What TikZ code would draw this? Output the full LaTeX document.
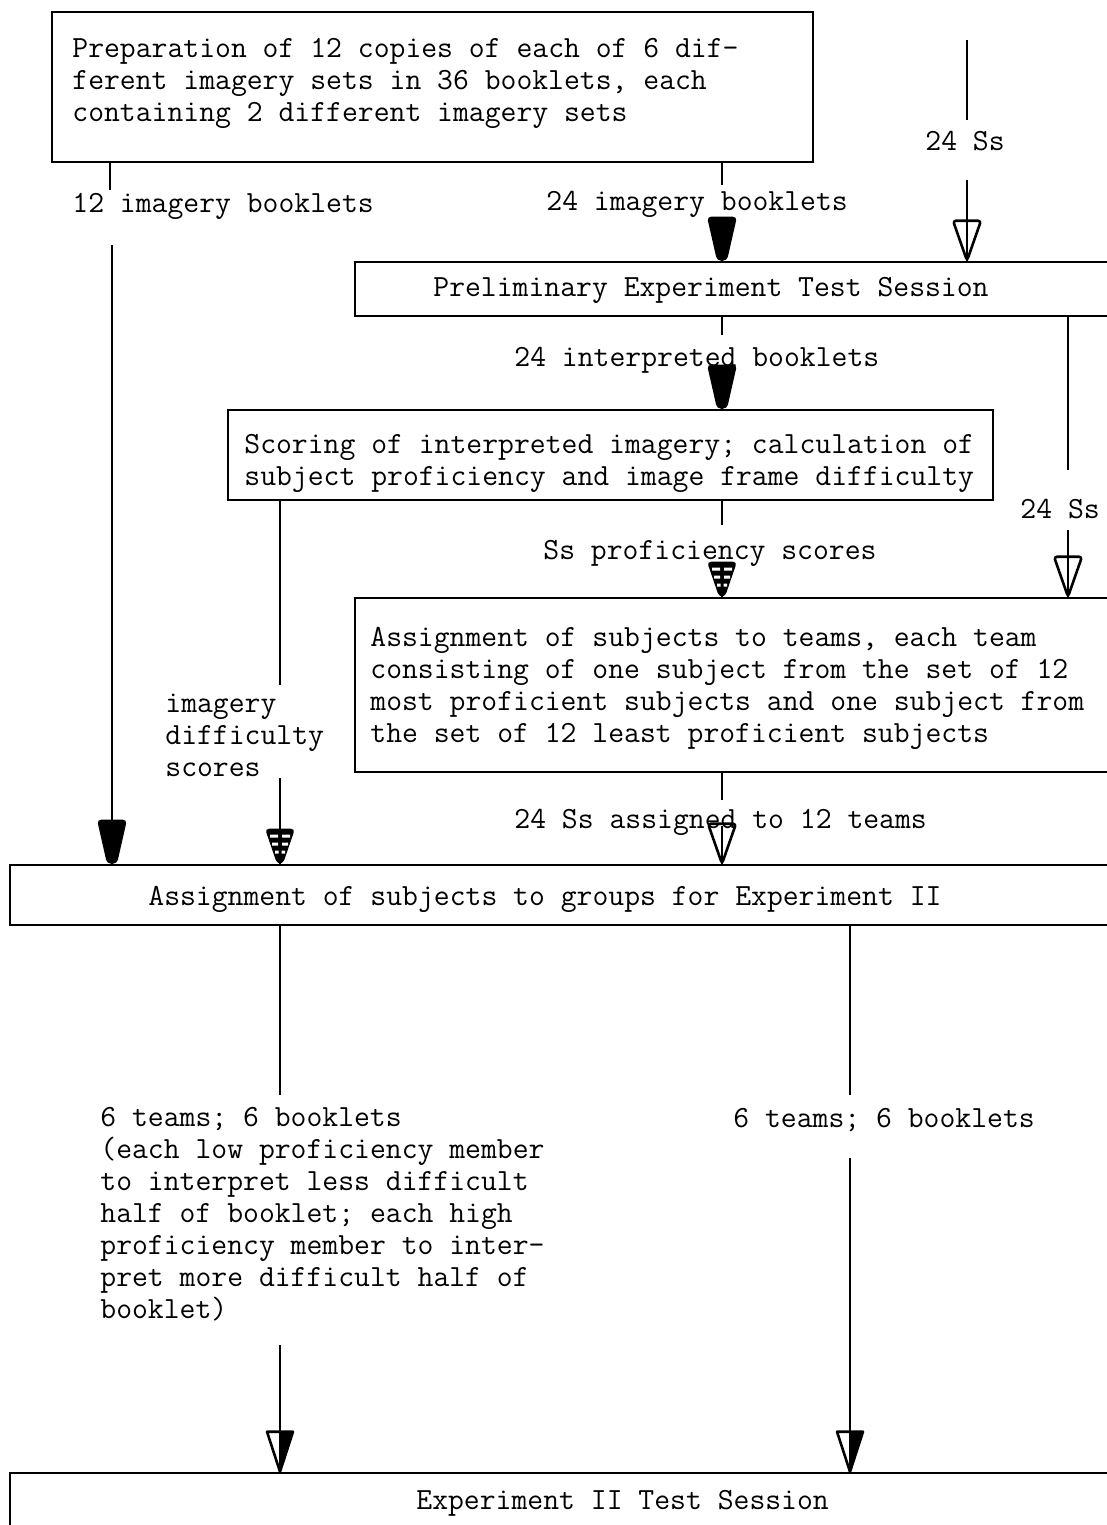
\documentclass[tikz,border=0pt]{standalone}
\usepackage{fontspec}
\usetikzlibrary{fit}
\newcommand{\st}{\rule{0pt}{10pt}}
\tikzset{
  box/.style={draw, line width=1.3pt, inner sep=0pt},
  txt/.style={anchor=base west, inner sep=0pt, font=\ttfamily\fontsize{15.4pt}{16pt}\selectfont},
  mtxt/.style={anchor=north west, inner sep=0pt, align=left, font=\ttfamily\fontsize{15.4pt}{16pt}\selectfont},
  conn/.style={line width=1.2pt},
  fhead/.pic={\fill[rounded corners=2pt] (-15,-44) -- (15,-44) -- (5,0) -- (-5,0) -- cycle;},
  ohead/.pic={\draw[line width=1.3pt, line join=round, rounded corners=1.5pt] (-14,-40) -- (14,-40) -- (0,0) -- cycle;},
  hhead/.pic={\fill[rounded corners=2pt] (-15,-35) -- (15,-35) -- (3,0) -- (-3,0) -- cycle;
    \fill[white] (-10,-29) rectangle (-2,-26) (2,-29) rectangle (10,-26)
                 (-8,-21) rectangle (-2,-18) (2,-21) rectangle (8,-18)
                 (-5,-13) rectangle (-1.5,-10) (1.5,-13) rectangle (5,-10);},
  dhead/.pic={\draw[line width=1.3pt, line join=round] (-13,-40) -- (13,-40) -- (0,0) -- cycle;
    \fill (0,-40) -- (13,-40) -- (0,0) -- cycle;}
}
\begin{document}
\begin{tikzpicture}[x=0.5pt,y=-0.5pt]
\useasboundingbox (0,0) rectangle (1107,1525);
\clip (0,0) rectangle (1107,1525);
\fill[white] (0,0) rectangle (1107,1525);

% boxes
\node[box, fit={(52,12) (813,162)}] (prep) {};
\node[box, fit={(355,262) (1130,316)}] (prelim) {};
\node[box, fit={(228,410) (993,500)}] (score) {};
\node[box, fit={(355,598) (1130,772)}] (assign) {};
\node[box, fit={(10,865) (1130,925)}] (groups) {};
\node[box, fit={(10,1473) (1130,1560)}] (final) {};

% texts
\node[mtxt] (tprep) at (72,37) {\st Preparation of 12 copies of each of 6 dif-\\ferent imagery sets in 36 booklets, each\\containing 2 different imagery sets};
\node[txt] (l12) at (72,212) {12 imagery booklets};
\node[txt] (l24a) at (546,210) {24 imagery booklets};
\node[txt] (lSs1) at (925,150) {24 Ss};
\node[txt] (tprelim) at (433,296) {Preliminary Experiment Test Session};
\node[txt] (l24i) at (514,366) {24 interpreted booklets};
\node[mtxt] (tscore) at (244,433) {\st Scoring of interpreted imagery; calculation of\\subject proficiency and image frame difficulty};
\node[txt] (lSs2) at (1020,518) {24 Ss};
\node[txt] (lprof) at (543,559) {Ss proficiency scores};
\node[mtxt] (tassign) at (370,626) {\st Assignment of subjects to teams, each team\\consisting of one subject from the set of 12\\most proficient subjects and one subject from\\the set of 12 least proficient subjects};
\node[mtxt] (ldiff) at (165,692) {\st imagery\\difficulty\\scores};
\node[txt] (lteams) at (514,828) {24 Ss assigned to 12 teams};
\node[txt] (tgroups) at (148,905) {Assignment of subjects to groups for Experiment II};
\node[mtxt] (lleft) at (100,1106) {\st 6 teams; 6 booklets\\(each low proficiency member\\to interpret less difficult\\half of booklet; each high\\proficiency member to inter-\\pret more difficult half of\\booklet)};
\node[txt] (lright) at (733,1127) {6 teams; 6 booklets};
\node[txt] (tfinal) at (416,1509) {Experiment II Test Session};

% coordinates
\coordinate (a1) at (110,190);  \coordinate (a2) at (112,245);
\coordinate (b1) at (722,185);  \coordinate (b2) at (722,218);
\coordinate (s0) at (967,40);   \coordinate (s1) at (967,120); \coordinate (s2) at (967,180);
\coordinate (c1) at (722,335);  \coordinate (c2) at (722,372);
\coordinate (d1) at (1068,470); \coordinate (d2) at (1068,530);
\coordinate (e1) at (722,525);  \coordinate (e2) at (722,565);
\coordinate (f1) at (280,685);  \coordinate (f2) at (280,778);
\coordinate (g1) at (722,800);  \coordinate (g2) at (722,826);
\coordinate (h1) at (280,1095); \coordinate (h2) at (280,1345);
\coordinate (k1) at (850,1095); \coordinate (k2) at (850,1158);

% connectors
\draw[conn] (prep.south -| a1) -- (a1);
\draw[conn] (a2) -- (groups.north -| a2);
\path (groups.north -| a2) pic {fhead};

\draw[conn] (prep.south -| b1) -- (b1);
\draw[conn] (b2) -- (prelim.north -| b2);
\path (prelim.north -| b2) pic {fhead};

\draw[conn] (s0) -- (s1);
\draw[conn] (s2) -- (prelim.north -| s2);
\path (prelim.north -| s2) pic {ohead};

\draw[conn] (prelim.south -| c1) -- (c1);
\draw[conn] (c2) -- (score.north -| c2);
\path (score.north -| c2) pic {fhead};

\draw[conn] (prelim.south -| d1) -- (d1);
\draw[conn] (d2) -- (assign.north -| d2);
\path (assign.north -| d2) pic {ohead};

\draw[conn] (score.south -| e1) -- (e1);
\draw[conn] (e2) -- (assign.north -| e2);
\path (assign.north -| e2) pic {hhead};

\draw[conn] (score.south -| f1) -- (f1);
\draw[conn] (f2) -- (groups.north -| f2);
\path (groups.north -| f2) pic {hhead};

\draw[conn] (assign.south -| g1) -- (g1);
\draw[conn] (g2) -- (groups.north -| g2);
\path (groups.north -| g2) pic {ohead};

\draw[conn] (groups.south -| h1) -- (h1);
\draw[conn] (h2) -- (final.north -| h2);
\path (final.north -| h2) pic {dhead};

\draw[conn] (groups.south -| k1) -- (k1);
\draw[conn] (k2) -- (final.north -| k2);
\path (final.north -| k2) pic {dhead};
\end{tikzpicture}
\end{document}
